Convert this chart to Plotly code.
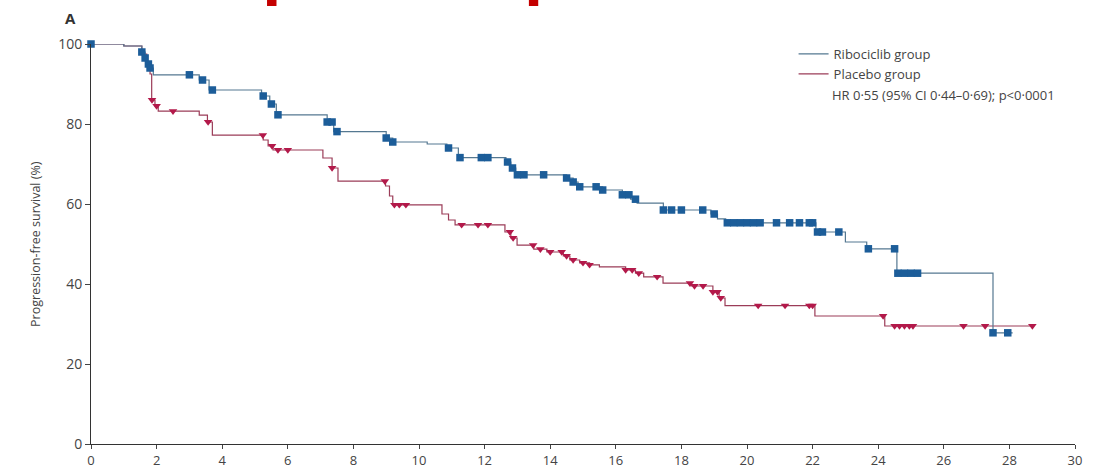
import plotly.graph_objects as go
import bisect

# ---------------- data ----------------
# Ribociclib group: step times (months) and survival (%) after each step
rib_times = [0, 1.0, 1.55, 1.65, 1.72, 1.8, 1.9, 3.3, 3.6, 5.2, 5.45, 5.65, 7.2, 7.4,
             9.0, 9.2, 10.25, 10.85, 11.2, 12.65, 12.8, 12.95, 14.5, 14.7, 14.85,
             15.6, 16.2, 16.45, 16.65, 17.45, 18.9, 19.1, 19.35, 22.1, 23.0, 23.65,
             24.57, 27.5]
rib_surv = [100, 99.5, 98, 96.5, 95, 94, 92.3, 91, 88.5, 87, 85, 82.3, 80.5, 78.1,
            76.5, 75.5, 75, 74, 71.6, 70.5, 69, 67.3, 66.5, 65.5, 64.3,
            63.5, 62.3, 61.2, 60.2, 58.5, 57.5, 56.3, 55.3, 53, 50.5, 48.8,
            42.7, 27.8]
rib_end = 28.1
rib_censor = [0, 1.55, 1.65, 1.75, 1.8, 3.0, 3.4, 3.7, 5.25, 5.5, 5.7, 7.2, 7.35, 7.5,
              9.0, 9.2, 10.9, 11.25, 11.9, 12.1, 12.7, 12.85, 13.0, 13.2, 13.8, 14.5,
              14.7, 14.9, 15.4, 15.6, 16.2, 16.4, 16.6, 17.45, 17.7, 18.0, 18.65,
              19.0, 19.4, 19.6, 19.8, 20.0, 20.2, 20.4, 20.9, 21.3, 21.6, 21.9, 22.0,
              22.15, 22.3, 22.8, 23.7, 24.5, 24.6, 24.8, 25.0, 25.2, 27.5, 27.95]

# Placebo group
pla_times = [0, 1.0, 1.55, 1.7, 1.8, 1.85, 1.95, 2.05, 3.3, 3.55, 3.7, 5.25, 5.4,
             5.55, 7.07, 7.35, 7.53, 8.98, 9.1, 9.2, 10.7, 10.9, 11.1, 12.62, 12.8,
             12.99, 13.5, 13.9, 14.4, 14.6, 14.9, 15.2, 15.5, 16.3, 16.6, 16.85,
             17.44, 18.3, 18.96, 19.15, 19.33, 22.07, 24.2]
pla_surv = [100, 99.5, 97.5, 95, 92.5, 86, 84.5, 83.2, 82.2, 80.5, 77.2, 76, 74.5,
            73.5, 71.5, 69, 65.7, 64.5, 62, 59.8, 57.5, 56, 54.8, 53, 51.5,
            49.7, 48.7, 48, 47, 46, 45.3, 44.8, 44.3, 43.5, 42.7, 41.8,
            40.2, 39.5, 38, 36.5, 34.6, 32, 29.5]
pla_end = 28.7
pla_censor = [1.86, 2.0, 2.5, 3.57, 5.24, 5.52, 5.7, 6.0, 7.35, 8.96, 9.25, 9.4, 9.6,
              11.3, 11.8, 12.1, 12.77, 12.87, 13.48, 13.7, 14.0, 14.35, 14.5, 14.7,
              15.0, 15.2, 16.3, 16.5, 16.7, 17.26, 18.26, 18.4, 18.66, 18.96, 19.1,
              19.2, 20.34, 21.16, 21.9, 22.0, 24.15, 24.5, 24.65, 24.8, 24.95, 25.06,
              26.6, 27.26, 28.7]

x_ticks = list(range(0, 31, 2))
y_ticks = [0, 20, 40, 60, 80, 100]

legend_names = ["Ribociclib group", "Placebo group"]
hr_text = "HR 0·55 (95% CI 0·44–0·69); p<0·0001"
y_title = "Progression-free survival (%)"
panel_label = "A"

# ---------------- helpers ----------------
def step_at(times, surv, t):
    i = bisect.bisect_right(times, t) - 1
    return surv[max(i, 0)]

BLUE_M = "#1c5d99"
RED_M = "#b3194a"
BLUE_L = "#557891"
RED_L = "#9b3c58"
FONT = "Open Sans"

traces = []
for times, surv, end, cens, name, lc, mc, sym, rank in [
    (pla_times, pla_surv, pla_end, pla_censor, legend_names[1], RED_L, RED_M, "triangle-down", 2),
    (rib_times, rib_surv, rib_end, rib_censor, legend_names[0], BLUE_L, BLUE_M, "square", 1),
]:
    xs = list(times) + [end]
    ys = list(surv) + [surv[-1]]
    traces.append(go.Scatter(x=xs, y=ys, mode="lines", line=dict(color=lc, width=1.2, shape="hv"),
                             name=name, legendrank=rank, cliponaxis=False))
    traces.append(go.Scatter(x=cens, y=[step_at(times, surv, t) for t in cens], mode="markers",
                             marker=dict(symbol=sym, size=7.5, color=mc, line=dict(width=0)),
                             showlegend=False, cliponaxis=False))

fig = go.Figure(data=traces)

fig.update_layout(
    width=1117, height=469,
    margin=dict(l=91, r=42, t=44, b=25, autoexpand=False),
    plot_bgcolor="white", paper_bgcolor="white",
    font=dict(family=FONT, color="#444", size=13),
    showlegend=True,
    legend=dict(x=0.714, y=1.0125, xanchor="left", yanchor="top", bgcolor="rgba(0,0,0,0)",
                font=dict(size=13, color="#444"), itemwidth=30, tracegroupgap=0),
    xaxis=dict(range=[0, 30], tickvals=x_ticks, ticks="outside", ticklen=4, tickcolor="#444",
               showline=True, linecolor="#333", linewidth=1, showgrid=False, zeroline=False,
               automargin=False, tickfont=dict(size=13, color="#444")),
    yaxis=dict(range=[0, 100], tickvals=y_ticks, ticks="outside", ticklen=5, tickcolor="#444",
               showline=True, linecolor="#333", linewidth=1, showgrid=False, zeroline=False,
               automargin=False, tickfont=dict(size=14, color="#444")),
)

fig.add_annotation(text=hr_text, xref="paper", yref="paper", x=0.751, y=0.872,
                   xanchor="left", yanchor="middle", showarrow=False,
                   font=dict(size=13, color="#444"))
fig.add_annotation(text="<b>" + panel_label + "</b>", xref="paper", yref="paper", x=-0.021, y=1.065,
                   xanchor="center", yanchor="middle", showarrow=False,
                   font=dict(size=15, color="#333"))
fig.add_annotation(text=y_title, xref="paper", yref="paper", x=-0.057, y=0.5, textangle=-90,
                   xanchor="center", yanchor="middle", showarrow=False,
                   font=dict(size=12.5, color="#444"))

# red marks cut at the top edge of the picture
for x0, x1 in [(0.1789, 0.1885), (0.445, 0.4545)]:
    fig.add_shape(type="rect", xref="paper", yref="paper", x0=x0, x1=x1, y0=1.095, y1=1.2,
                  fillcolor="#c40000", line=dict(width=0))

fig.write_html("out.html", config={"displayModeBar": False},
               post_script="document.body.style.margin='0';")
